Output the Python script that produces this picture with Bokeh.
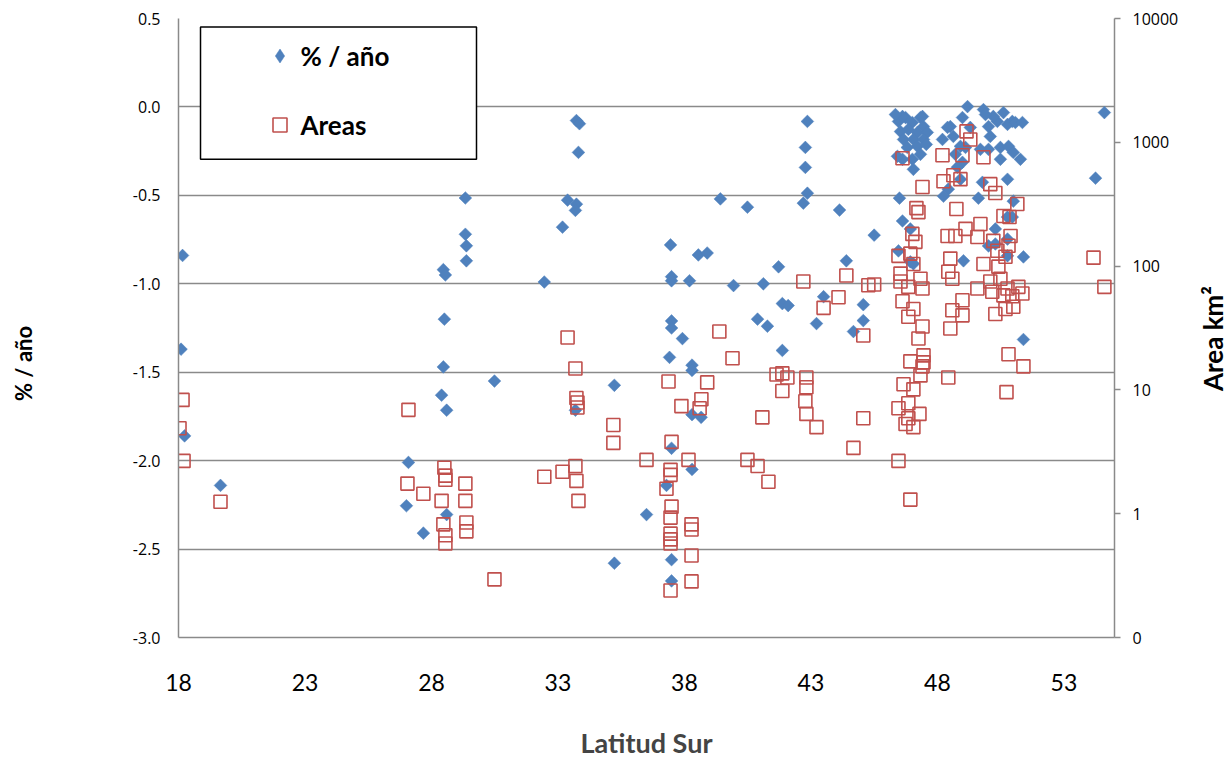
import math
from bokeh.plotting import figure
from bokeh.models import (Range1d, LogScale, LogAxis, FixedTicker, NumeralTickFormatter,
                          CustomJSTickFormatter, Legend, LegendItem, BoxAnnotation, Label)
from bokeh.embed import file_html
from bokeh.resources import INLINE

# ---------------- data: % / año (diamonds) ----------------
lat_pct_a = [18.16, 18.10, 18.24, 19.66]
pct_a = [-0.84, -1.37, -1.86, -2.14]
lat_pct_b = [27.09, 27.01, 27.68, 28.47, 28.55, 28.51, 28.47, 28.40, 28.60, 28.60, 29.34, 29.34, 29.38, 29.38, 30.49]
pct_b = [-2.01, -2.255, -2.41, -0.92, -0.95, -1.20, -1.47, -1.63, -1.715, -2.305, -0.515, -0.72, -0.785, -0.87, -1.55]
lat_pct_c = [32.46, 33.18, 33.38, 33.73, 33.69, 33.73, 33.85, 33.81, 33.69, 35.23, 35.23, 36.50]
pct_c = [-0.99, -0.68, -0.527, -0.55, -0.585, -0.077, -0.095, -0.257, -1.715, -1.574, -2.58, -2.305]
lat_pct_d = [37.45, 37.49, 37.49, 38.20, 38.55, 38.90, 37.49, 37.49, 37.92, 37.41, 38.30, 38.30, 38.30, 38.66, 37.49, 38.30, 37.29, 37.49, 37.49]
pct_d = [-0.78, -0.96, -0.983, -0.983, -0.837, -0.826, -1.21, -1.25, -1.31, -1.416, -1.46, -1.49, -1.74, -1.755, -1.93, -2.05, -2.14, -2.56, -2.68]
lat_pct_e = [39.94, 41.12, 39.42, 40.49, 41.72, 41.87, 42.10, 40.89, 41.28, 41.87, 42.86, 42.78, 42.78, 42.86, 42.70, 44.13, 44.40, 43.50, 43.22, 45.07, 45.07, 44.68, 45.50]
pct_e = [-1.01, -1.00, -0.52, -0.567, -0.904, -1.112, -1.123, -1.20, -1.24, -1.377, -0.082, -0.229, -0.342, -0.488, -0.544, -0.583, -0.87, -1.073, -1.225, -1.118, -1.208, -1.27, -0.725]
lat_pct_f = [46.46, 46.74, 47.01, 47.33, 47.45, 46.54, 46.85, 47.21, 47.60, 46.66, 47.05, 47.45, 46.81, 47.21, 47.33, 47.01, 47.05, 46.62, 46.42, 46.62, 47.41, 46.34, 47.56,
             46.50, 46.62, 46.93, 46.46, 46.93, 47.05]
pct_f = [-0.082, -0.06, -0.088, -0.06, -0.111, -0.139, -0.127, -0.144, -0.144, -0.184, -0.184, -0.184, -0.229, -0.223, -0.268, -0.296, -0.353, -0.296, -0.279, -0.054, -0.054, -0.043, -0.212,
         -0.516, -0.645, -0.69, -0.814, -0.876, -0.887]
lat_pct_g = [49.19, 48.99, 48.51, 48.40, 48.20, 48.63, 48.91, 49.30, 48.99, 48.91, 48.43, 48.24, 48.79, 49.11, 48.71]
pct_g = [0.002, -0.06, -0.111, -0.116, -0.184, -0.167, -0.223, -0.116, -0.313, -0.409, -0.465, -0.505, -0.341, -0.229, -0.268]
lat_pct_h = [49.82, 50.61, 50.96, 50.02, 50.37, 50.77, 50.21, 51.08, 50.02, 50.49, 50.81, 51.00, 51.28, 50.49, 49.70, 50.09, 49.78, 50.77, 49.62, 51.00, 51.36, 49.90,
             50.29, 50.77, 50.96, 50.02, 50.29, 50.77, 50.77, 51.40, 49.03, 51.40, 54.60, 54.25]
pct_h = [-0.015, -0.032, -0.082, -0.111, -0.082, -0.099, -0.054, -0.088, -0.24, -0.229, -0.223, -0.257, -0.296, -0.296, -0.24, -0.167, -0.426, -0.409, -0.516, -0.533, -0.088, -0.043,
         -0.69, -0.623, -0.623, -0.786, -0.775, -0.747, -0.842, -0.848, -0.87, -1.315, -0.032, -0.403]

# ---------------- data: Areas km2 (squares) ----------------
lat_area_a = [18.16, 18.04, 18.20, 19.66]
area_a = [8.3, 4.9, 2.67, 1.25]
lat_area_b = [27.09, 27.05, 27.68, 28.40, 28.51, 28.55, 28.55, 28.47, 28.55, 28.55, 29.34, 29.34, 29.38, 29.38, 30.49]
area_b = [6.9, 1.75, 1.45, 1.27, 2.35, 2.03, 1.88, 0.82, 0.67, 0.575, 1.75, 1.27, 0.85, 0.72, 0.295]
lat_area_c = [32.46, 33.38, 33.18, 33.69, 33.73, 33.77, 33.77, 33.69, 33.73, 33.81, 35.19, 35.19, 36.50]
area_c = [1.99, 26.5, 2.18, 14.9, 8.6, 7.9, 7.2, 2.43, 1.84, 1.27, 5.2, 3.73, 2.72]
lat_area_d = [37.37, 38.90, 38.67, 37.88, 38.60, 37.49, 38.16, 37.45, 37.45, 37.29, 37.49, 37.45, 37.45, 37.45, 37.45, 38.28, 38.28, 38.28, 38.28, 37.45, 39.38, 39.90]
area_d = [11.7, 11.5, 8.4, 7.4, 7.1, 3.8, 2.72, 2.26, 2.06, 1.59, 1.14, 0.93, 0.69, 0.62, 0.575, 0.82, 0.745, 0.46, 0.284, 0.24, 29.6, 18]
lat_area_e = [40.49, 40.89, 41.32, 41.08, 41.87, 41.64, 42.07, 41.87, 42.82, 42.82, 42.78, 42.82, 43.22, 45.07, 44.68, 42.70, 44.40, 44.09, 43.50, 45.27, 45.50, 45.07]
area_e = [2.72, 2.43, 1.81, 6.0, 13.6, 13.3, 12.6, 9.8, 12.6, 10.5, 8.1, 6.4, 5.0, 5.9, 3.4, 75, 84, 56, 46, 70, 71, 27.5]
lat_area_f = [46.62, 48.20, 49.15, 49.30, 48.99, 49.82, 47.41, 48.63, 48.24, 48.91, 50.09, 50.29, 51.16, 47.17, 47.25, 48.75]
area_f = [743, 785, 1225, 1054, 785, 757, 435, 542, 485, 504, 459, 389, 317, 294, 273, 289]
lat_area_g = [47.01, 47.13, 48.40, 48.71, 49.11, 49.70, 49.58, 50.21, 50.89, 50.81, 50.37, 50.69, 48.51, 48.43, 48.59, 49.82, 50.41, 46.54, 46.54, 46.85,
              47.33, 47.41, 49.58, 50.09, 50.17, 50.77, 51.20, 51.36, 50.49, 50.61, 50.96, 51.00, 46.62, 47.05, 46.85, 47.41, 47.25, 48.59, 48.99, 48.99,
              48.51, 50.29, 50.69, 46.46, 46.93, 47.05, 50.61, 50.85]
area_g = [182, 157, 175, 175, 200, 219, 172, 160, 175, 146, 133, 119, 115, 90, 79, 104, 99, 87, 75, 68,
          79, 66, 66, 75, 62, 66, 68, 60, 79, 58, 57, 47, 52, 45, 39, 32.5, 26, 44, 53, 40,
          31.3, 41, 45, 121, 126, 104, 254, 249]
lat_area_h = [46.93, 47.45, 47.45, 47.41, 47.33, 48.43, 50.81, 51.40, 50.73, 46.66, 47.05, 46.85, 46.46, 47.29, 46.85, 46.74, 47.05, 46.46, 46.93, 54.17, 54.60]
area_h = [17, 19, 16.7, 15.5, 13.1, 12.6, 19.4, 15.5, 9.6, 11.1, 10.1, 7.8, 7.1, 6.4, 5.9, 5.3, 5.0, 2.67, 1.3, 117, 68]

# axis ticks
x_ticks = [18, 23, 28, 33, 38, 43, 48, 53]
pct_ticks = [-3.0, -2.5, -2.0, -1.5, -1.0, -0.5, 0.0, 0.5]
area_ticks = [0.1, 1, 10, 100, 1000, 10000]

lat_pct = lat_pct_a + lat_pct_b + lat_pct_c + lat_pct_d + lat_pct_e + lat_pct_f + lat_pct_g + lat_pct_h
pct = pct_a + pct_b + pct_c + pct_d + pct_e + pct_f + pct_g + pct_h
lat_area = lat_area_a + lat_area_b + lat_area_c + lat_area_d + lat_area_e + lat_area_f + lat_area_g + lat_area_h
area = area_a + area_b + area_c + area_d + area_e + area_f + area_g + area_h
assert len(lat_pct) == len(pct) and len(lat_area) == len(area)

GRID = "#8a8a8a"
BLUE = "#4F81BD"
RED = "#C0504D"
TICKFONT = "Open Sans"
BOLDFONT = "Lato"

p = figure(width=1231, height=761, output_backend="svg", toolbar_location=None, title=None,
           x_range=Range1d(18, 55), y_range=Range1d(-3.0, 0.5),
           min_border_left=178, min_border_right=117, min_border_top=18, min_border_bottom=121)
p.outline_line_color = None
p.background_fill_color = "white"
p.border_fill_color = "white"

p.extra_y_ranges = {"area": Range1d(0.1, 10000)}
p.extra_y_scales = {"area": LogScale()}

# diamonds (blue): squares turned by 45 degrees
r1 = p.scatter(lat_pct, pct, marker="square", size=9, angle=0.785398,
               fill_color=BLUE, line_color=BLUE, line_width=0.5)
# squares (red, open)
r2 = p.scatter(lat_area, area, marker="square", size=13, y_range_name="area",
               fill_color=None, line_color=RED, line_width=1.6)
# hidden twin of the first diamond, only used to draw the legend symbol
r_leg = p.scatter(lat_pct[:1], pct[:1], marker="diamond", fill_color=BLUE, line_color=BLUE,
                  line_width=0.5, visible=False)

# grid
p.xgrid.visible = False
p.ygrid.ticker = FixedTicker(ticks=pct_ticks)
p.ygrid.grid_line_color = GRID
p.ygrid.grid_line_width = 1.5

# x axis
xa = p.xaxis[0]
xa.ticker = FixedTicker(ticks=x_ticks)
xa.axis_line_color = GRID
xa.axis_line_width = 1.5
xa.major_tick_out = 0
xa.major_tick_in = 0
xa.minor_tick_out = 0
xa.minor_tick_in = 0
xa.major_label_standoff = 36
xa.major_label_text_font = BOLDFONT
xa.major_label_text_font_size = "23px"
xa.major_label_text_color = "black"
xa.axis_label = "Latitud Sur"
xa.axis_label_text_font = BOLDFONT
xa.axis_label_text_font_style = "bold"
xa.axis_label_text_font_size = "27px"
xa.axis_label_standoff = 32

# left axis
ya = p.yaxis[0]
ya.ticker = FixedTicker(ticks=pct_ticks)
ya.formatter = NumeralTickFormatter(format="0.0")
ya.axis_line_color = GRID
ya.axis_line_width = 1.5
ya.major_tick_out = 0
ya.major_tick_in = 0
ya.minor_tick_out = 0
ya.minor_tick_in = 0
ya.major_label_standoff = 18
ya.major_label_text_font = TICKFONT
ya.major_label_text_font_size = "16px"
ya.major_label_text_color = "black"

# right axis (log)
ra = LogAxis(y_range_name="area", ticker=FixedTicker(ticks=area_ticks),
             formatter=CustomJSTickFormatter(code="return tick < 1 ? '0' : tick.toFixed(0);"))
ra.axis_line_color = GRID
ra.axis_line_width = 1.5
ra.major_tick_out = 6
ra.major_tick_in = 0
ra.major_tick_line_color = GRID
ra.major_tick_line_width = 1.5
ra.minor_tick_out = 0
ra.minor_tick_in = 0
ra.major_label_standoff = 12
ra.major_label_text_font = TICKFONT
ra.major_label_text_font_size = "16px"
ra.major_label_text_color = "black"
p.add_layout(ra, "right")

# vertical axis titles, placed in the side panels (screen offsets within each panel)
p.add_layout(Label(x=-79, y=274, x_units="screen", y_units="screen", text="% / año",
                   angle=math.pi / 2, text_align="center", text_baseline="middle",
                   text_font=BOLDFONT, text_font_style="bold", text_font_size="22px",
                   text_color="black"), "left")
p.add_layout(Label(x=31, y=299, x_units="screen", y_units="screen", text="Area km²",
                   angle=math.pi / 2, text_align="center", text_baseline="middle",
                   text_font=BOLDFONT, text_font_style="bold", text_font_size="26px",
                   text_color="black"), "right")

# legend box
box = BoxAnnotation(left=18.87, right=29.78, top=0.452, bottom=-0.296,
                    fill_color="white", fill_alpha=1.0, line_color="black",
                    line_alpha=1.0, line_width=1.5)
p.add_layout(box)

legend = Legend(items=[LegendItem(label="% / año", renderers=[r_leg]),
                       LegendItem(label="Areas", renderers=[r2])],
                location=(83.5, 492.5), padding=0, margin=0, spacing=29,
                glyph_width=35, glyph_height=35, label_height=40, label_standoff=4,
                border_line_color=None, background_fill_alpha=0.0,
                inactive_fill_alpha=0.0,
                label_text_font=BOLDFONT, label_text_font_style="bold",
                label_text_font_size="26px", label_text_color="black")
p.add_layout(legend)

open("out.html", "w").write(file_html(p, INLINE))
